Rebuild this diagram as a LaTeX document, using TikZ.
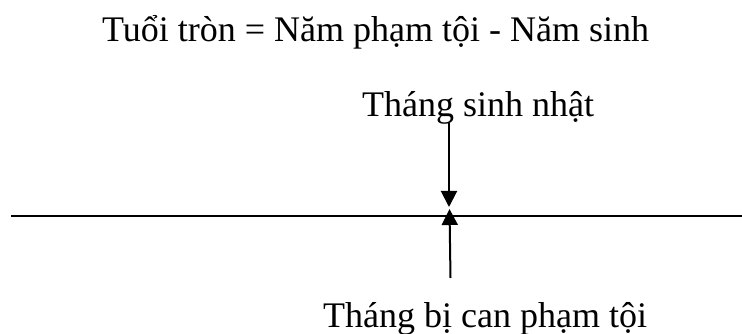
\documentclass[tikz,border=0pt]{standalone}
\usepackage{fontspec}
\setmainfont{Liberation Serif}
\usepackage{tikz}
\usetikzlibrary{arrows.meta, positioning, calc}

\begin{document}
\begin{tikzpicture}[x=1pt, y=-1pt, >={Triangle[length=16pt, width=16pt]},
      label/.style={inner sep=0pt, font=\fontsize{36}{40}\selectfont, anchor=base west},
      axis/.style={line width=2.4pt},
      pointer/.style={->, line width=2pt}]

    \useasboundingbox (0,0) rectangle (742,334);

    \node[label] (formula) at (102,42) {Tuổi tròn = Năm phạm tội - Năm sinh};
    \node[label] (birth) at (362,117) {Tháng sinh nhật};
    \node[label] (crime) at (323,327) {Tháng bị can phạm tội};

    \coordinate (left) at (11,216);
    \coordinate (right) at (742,216);
    \coordinate (btop) at (449,123);
    \coordinate (btip) at (449,207);
    \coordinate (cbot) at (450.5,278);
    \coordinate (ctip) at (449.5,209);

    \draw[axis] (left) -- (right);
    \draw[pointer] (btop) -- (btip);
    \draw[pointer] (cbot) -- (ctip);
  \end{tikzpicture}
\end{document}
